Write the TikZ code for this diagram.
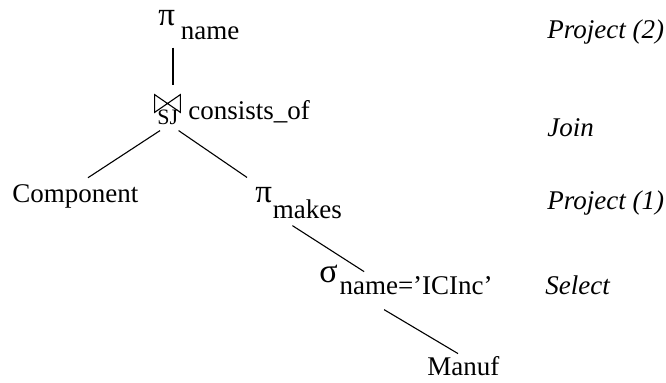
\documentclass[tikz,border=0pt]{standalone}
\usepackage{fontspec}
\setmainfont{Liberation Serif}
\usetikzlibrary{positioning}
\tikzstyle{rel}=[inner sep=0pt,anchor=base west,font=\fontsize{13.5}{16}\selectfont]
\tikzstyle{op}=[rel,font=\fontsize{16.5}{19}\selectfont]
\tikzstyle{opsub}=[rel,font=\fontsize{11}{13}\selectfont]
\tikzstyle{bowtie}=[inner sep=0pt,minimum width=12.5pt,minimum height=8.5pt]
\tikzstyle{note}=[rel,font=\fontsize{13.5}{16}\selectfont\itshape]
\tikzstyle{tree}=[line width=0.55pt]

\begin{document}
\begin{tikzpicture}[x=0.5pt,y=-0.5pt]
\useasboundingbox (0,0) rectangle (666,383);

% operators of the query tree
\node[op] (pname) at (158,26) {π};
\node[rel,base right=2.5pt of pname,yshift=-7pt] (pnamesub) {name};
\node[bowtie] (join) at (167.5,103.5) {};
\draw[tree] (join.north west) -- (join.south west) -- (join.north east)
  -- (join.south east) -- cycle;
\node[opsub] (jsub) at (157,125) {SJ};
\node[rel] (jcond) at (188,120) {consists\_of};
\node[rel] (comp) at (12,203) {Component};
\node[op] (pmakes) at (255,203) {π};
\node[rel,base right=0pt of pmakes,yshift=-8pt] (pmakessub) {makes};
\node[op,font=\fontsize{17}{19}\selectfont] (sel) at (319,283) {σ};
\node[rel,base right=0.5pt of sel,yshift=-6pt] (selsub) {name=’ICInc’};
\node[rel] (manuf) at (427,376) {Manuf};

% step names
\node[note] (n2) at (547,39) {Project (2)};
\node[note] (nj) at (547,137) {Join};
\node[note] (n1) at (547,210) {Project (1)};
\node[note] (ns) at (545,295) {Select};

\draw[tree,line width=1pt] ([shift={(15,21)}]pname.south west) -- ([shift={(5.5,-10)}]join.north);
\draw[tree] ([shift={(3,5)}]jsub.south west) -- ([shift={(76,-7)}]comp.north west);
\draw[tree] ([shift={(0,5)}]jsub.south east) -- ([shift={(-8,-10)}]pmakes.north west);
\draw[tree] ([shift={(20,6)}]pmakessub.south west) -- ([shift={(25,-5)}]selsub.north west);
\draw[tree] ([shift={(45,14)}]selsub.south west) -- ([shift={(31,-3)}]manuf.north west);
\end{tikzpicture}
\end{document}
